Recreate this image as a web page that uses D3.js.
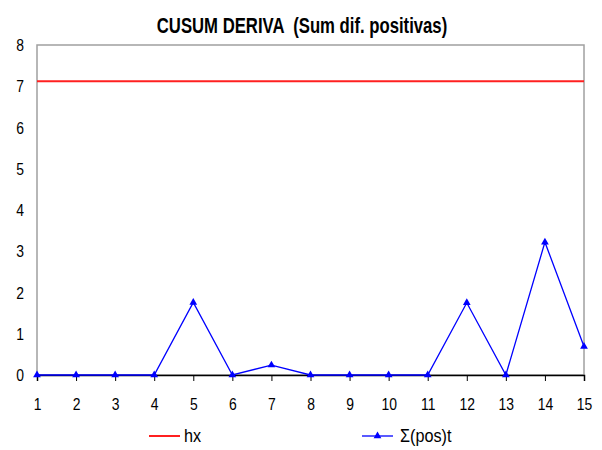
<!DOCTYPE html>
<html>
<head>
<meta charset="utf-8">
<script src="https://cdn.jsdelivr.net/npm/d3@7"></script>
<style>
  body { margin: 0; background: #fff; }
  text { font-family: "Liberation Sans", Arial, sans-serif; }
</style>
</head>
<body>
<div id="chart"></div>
<script>
const width = 602
const height = 450

const periodos = [1, 2, 3, 4, 5, 6, 7, 8, 9, 10, 11, 12, 13, 14, 15]
const sumPos = [0, 0, 0, 0, 1.76, 0, 0.24, 0, 0, 0, 0, 1.75, 0, 3.22, 0.69]
const hx = 7.12
const yTicks = [0, 1, 2, 3, 4, 5, 6, 7, 8]

const margin = {left: 37, right: 18, top: 45, bottom: 75}

// el original usa una fuente estrecha; se comprime en horizontal
const estrecho = 0.82

const svg = d3.select("#chart").append("svg")
    .attr("width", width)
    .attr("height", height)

const x = d3.scaleLinear()
    .domain([1, 15])
    .range([margin.left, width - margin.right])

const y = d3.scaleLinear()
    .domain([0, 8])
    .range([height - margin.bottom, margin.top])

// marco
svg.append("rect")
    .attr("x", x(1))
    .attr("y", y(8))
    .attr("width", x(15) - x(1))
    .attr("height", y(0) - y(8))
    .attr("fill", "none")
    .attr("stroke", "#a0a0a0")
    .attr("stroke-width", 1.5)

// eje y
svg.append("g")
    .selectAll("text")
    .data(yTicks)
    .join("text")
    .attr("transform", d => `translate(${x(1) - 13}, ${y(d)}) scale(${estrecho}, 1)`)
    .attr("dy", "0.36em")
    .attr("text-anchor", "end")
    .attr("font-size", 17)
    .text(d => d)

// eje x
const xAxis = svg.append("g")
    .attr("transform", `translate(0, ${y(0)})`)
    .call(d3.axisBottom(x).tickValues(periodos).tickSize(6).tickPadding(10).tickFormat(d3.format("d")))
xAxis.select(".domain").attr("stroke", "black").attr("stroke-width", 1.5)
xAxis.selectAll(".tick line").attr("stroke", "black")
xAxis.selectAll("text")
    .attr("font-size", 17)
    .attr("fill", "black")
    .attr("y", 0)
    .attr("dy", 0)
    .attr("transform", `translate(0, 35) scale(${estrecho}, 1)`)
    .style("font-family", "'Liberation Sans', Arial, sans-serif")

// limite hx
svg.append("line")
    .attr("x1", x(1))
    .attr("x2", x(15))
    .attr("y1", y(hx))
    .attr("y2", y(hx))
    .attr("stroke", "#ff2020")
    .attr("stroke-width", 2)

// serie
const line = d3.line()
    .x((d, i) => x(periodos[i]))
    .y(d => y(d))

svg.append("path")
    .datum(sumPos)
    .attr("d", line)
    .attr("fill", "none")
    .attr("stroke", "#0000ff")
    .attr("stroke-width", 1.3)

const tri = d3.symbol().type(d3.symbolTriangle).size(26)

svg.append("g")
    .selectAll("path")
    .data(sumPos)
    .join("path")
    .attr("d", tri)
    .attr("transform", (d, i) => `translate(${x(periodos[i])}, ${y(d)})`)
    .attr("fill", "#0000ff")

// titulo
svg.append("text")
    .attr("transform", `translate(302, 33) scale(0.76, 1)`)
    .attr("text-anchor", "middle")
    .attr("font-size", 22)
    .attr("font-weight", "bold")
    .style("white-space", "pre")
    .text("CUSUM DERIVA  (Sum dif. positivas)")

// leyenda
const ly = 436
svg.append("line")
    .attr("x1", 149).attr("x2", 180)
    .attr("y1", ly).attr("y2", ly)
    .attr("stroke", "#ff2020").attr("stroke-width", 2)
svg.append("text")
    .attr("transform", `translate(184, ${ly}) scale(0.9, 1)`)
    .attr("dy", "0.36em")
    .attr("font-size", 18)
    .text("hx")

svg.append("line")
    .attr("x1", 362).attr("x2", 393)
    .attr("y1", ly).attr("y2", ly)
    .attr("stroke", "#0000ff").attr("stroke-width", 1.3)
svg.append("path")
    .attr("d", tri)
    .attr("transform", `translate(377.5, ${ly})`)
    .attr("fill", "#0000ff")
svg.append("text")
    .attr("transform", `translate(400, ${ly}) scale(0.9, 1)`)
    .attr("dy", "0.36em")
    .attr("font-size", 18)
    .text("Σ(pos)t")
</script>
</body>
</html>
